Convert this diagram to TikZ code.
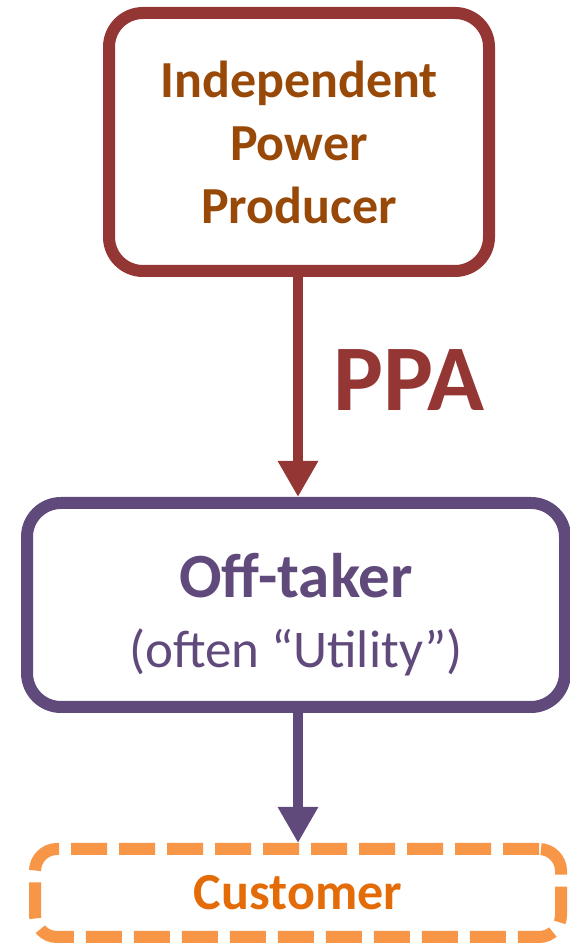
\documentclass[tikz,border=0pt]{standalone}
\usepackage{fontspec}
\setmainfont{Carlito}
\usetikzlibrary{arrows.meta,positioning}

\definecolor{ippred}{HTML}{943634}
\definecolor{ippbrown}{HTML}{984807}
\definecolor{offpurple}{HTML}{604A7B}
\definecolor{custline}{HTML}{F79646}
\definecolor{custtext}{HTML}{E36C09}

\begin{document}
\begin{tikzpicture}[>={Triangle[width=38pt,length=36pt]},
        box/.style={draw,line width=12pt,rounded corners=34pt,fill=white,align=center},
        flow/.style={->,line width=10pt}]

  \useasboundingbox (0,0) rectangle (570pt,943pt);

  \node[box,draw=ippred,text=ippbrown,font=\bfseries\fontsize{52}{63}\selectfont,
        minimum width=380pt,minimum height=258pt] (ipp) at (299pt,801pt)
        {Independent\\Power\\Producer};
  \node[box,draw=offpurple,text=offpurple,font=\fontsize{53}{70}\selectfont,
        minimum width=538pt,minimum height=204pt] (off_taker) at (296pt,338pt)
        {\rule{0pt}{64pt}{\bfseries\fontsize{63}{70}\selectfont Off-taker}\\(often “Utility”)};
  \node[box,draw=custline,text=custtext,dash pattern=on 36pt off 12pt,rounded corners=22pt,
        font=\bfseries\fontsize{52}{60}\selectfont,
        minimum width=526pt,minimum height=88pt] (customer) at (298pt,50pt) {Customer};

  \draw[flow,ippred] (ipp.south -| 298pt,0) -- (off_taker.north -| 298pt,0);
  \draw[flow,offpurple] (off_taker.south -| 298pt,0) -- (customer.north -| 298pt,0);

  \node[text=ippred,font=\bfseries\fontsize{94}{100}\selectfont] (ppa) at (409pt,563pt) {PPA};

\end{tikzpicture}
\end{document}
